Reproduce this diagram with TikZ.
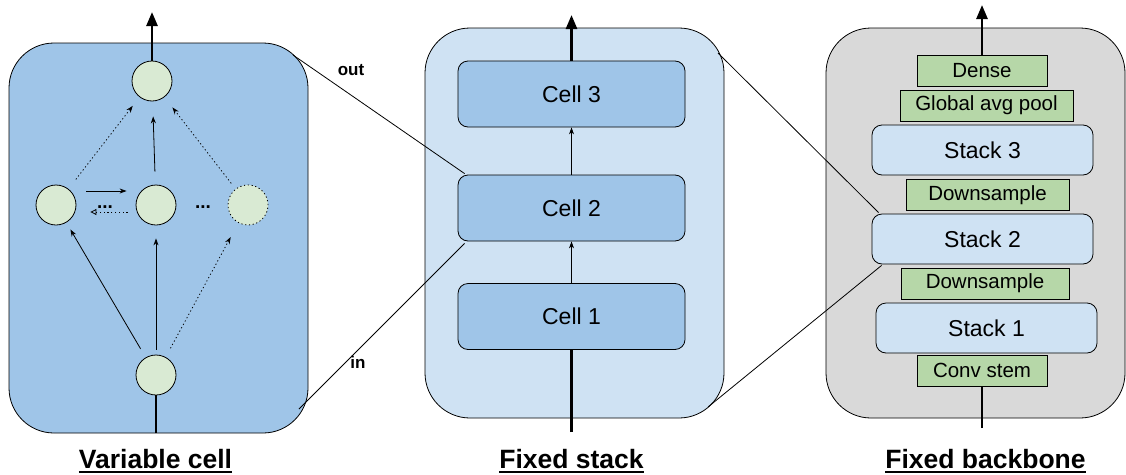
\documentclass[tikz,border=0pt]{standalone}
\usepackage{fontspec}
\setmainfont{Liberation Sans}
\usetikzlibrary{arrows,arrows.meta,calc}
\definecolor{bluscuro}{HTML}{9FC5E8}
\definecolor{bluchiaro}{HTML}{CFE2F3}
\definecolor{verdechiaro}{HTML}{D9EAD3}
\definecolor{verde}{HTML}{B6D7A8}
\definecolor{grigio}{HTML}{D9D9D9}
\newcommand\sottolinea[1]{\setbox0\hbox{#1}\rlap{\rule[-5pt]{\wd0}{2pt}}\box0}
\tikzset{
>=Stealth,
panel node/.style={draw,rounded corners=45pt,minimum width=299pt,minimum height=390pt,line width=0.8pt},
main node/.style={circle,draw,fill=verdechiaro,minimum size=40pt,inner sep=0pt,line width=0.8pt},
cell node/.style={draw,rounded corners=10pt,fill=bluscuro,minimum width=227pt,minimum height=66pt,line width=0.8pt,font=\fontsize{23}{27}\selectfont},
stack node/.style={draw,rounded corners=10pt,fill=bluchiaro,minimum width=221pt,minimum height=50pt,line width=0.8pt,font=\fontsize{23}{27}\selectfont},
layer node/.style={draw,fill=verde,minimum height=31pt,inner sep=0pt,line width=0.8pt,font=\fontsize{20.5}{24}\selectfont},
freccia/.style={->,line width=0.8pt,>={Stealth[length=7pt,width=5pt]}},
puntini/.style={dash pattern=on 1.2pt off 2.6pt},
freccia grossa/.style={->,line width=2.6pt,>={Triangle[length=14pt,width=11pt]}},
titolo/.style={anchor=base,font=\bfseries\fontsize{26.5}{30}\selectfont},
etichetta/.style={font=\bfseries\fontsize{17}{20}\selectfont}}

\begin{document}
\begin{tikzpicture}[x=1pt,y=-1pt]
\useasboundingbox (0,0) rectangle (1126,474);
\node[panel node,fill=bluscuro] (vc) at (158.5,238) {};
\node[panel node,fill=bluchiaro] (fs) at (574.5,223) {};
\node[panel node,fill=grigio] (fb) at (975.5,223) {};

\coordinate (vc ne) at (293,55);
\coordinate (vc se) at (299,409);
\coordinate (fs ne) at (718,53);
\coordinate (fs se) at (708,407);

\node[cell node] (c3) at (571.5,94) {Cell 3};
\node[cell node] (c2) at (571.5,208) {Cell 2};
\node[cell node] (c1) at (571.5,316.5) {Cell 1};

\node[layer node,minimum width=130pt] (dense) at (982,70.5) {Dense};
\node[layer node,minimum width=173pt] (gap) at (986.5,105.5) {Global avg pool};
\node[stack node] (s3) at (982.5,150) {Stack 3};
\node[layer node,minimum width=163pt] (ds2) at (987.5,195) {Downsample};
\node[stack node] (s2) at (982.5,239) {Stack 2};
\node[layer node,minimum width=168pt] (ds1) at (985,283.5) {Downsample};
\node[stack node] (s1) at (986.5,328) {Stack 1};
\node[layer node,minimum width=130pt] (conv) at (982,370.5) {Conv stem};

\draw[line width=0.8pt] (vc ne) -- ($(c2.north west)+(7,-1)$);
\draw[line width=0.8pt] (vc se) -- ($(c2.south west)+(7,2)$);
\draw[line width=0.8pt] (fs ne) -- ($(s2.north west)+(7,-1)$);
\draw[line width=0.8pt] (fs se) -- ($(s2.south west)+(10,1)$);

\node[main node] (n4) at (152,81) {};
\node[main node] (n1) at (56,205) {};
\node[main node] (n2) at (156,205) {};
\node[main node,puntini] (n3) at (248,205) {};
\node[main node] (n0) at (156,375) {};

\node[etichetta,anchor=base,font=\bfseries\fontsize{19}{20}\selectfont] (d1) at (105,208) {...};
\node[etichetta,anchor=base,font=\bfseries\fontsize{19}{20}\selectfont] (d2) at (203,208) {...};

\path[freccia]
	(n0) edge[shorten <=10pt,shorten >=8pt] (n1)
	(n0) edge[shorten <=5pt,shorten >=13pt] (n2)
	(n0) edge[puntini,shorten <=10pt,shorten >=16pt] (n3)
	(n1) edge[puntini,shorten <=12pt,shorten >=11pt] (n4)
	(n2) edge[shorten <=13pt,shorten >=15pt] (n4)
	(n3) edge[puntini,shorten <=7pt,shorten >=13pt] (n4);
\draw[freccia] ($(n1.east)+(10,-14)$) -- ($(n2.west)+(-9,-14)$);
\draw[freccia,puntini,>={Triangle[open,length=6pt,width=6pt]}] ($(n2.west)+(-8,7)$) -- ($(n1.east)+(14,7)$);

\coordinate (vc out) at (152,12);
\coordinate (vc in) at (156,433);
\draw[freccia grossa] (n4) -- (vc out);
\draw[line width=2.6pt] (vc in) -- (n0);

\coordinate (fs out) at (571.5,15);
\coordinate (fs in) at (571.5,432);
\draw[freccia grossa] (c3) -- (fs out);
\draw[line width=2.6pt] (fs in) -- (c1);
\draw[freccia] (c1) -- (c2);
\draw[freccia] (c2) -- (c3);

\coordinate (fb out) at (982,5);
\coordinate (fb in) at (982,428);
\draw[freccia grossa] (dense) -- (fb out);
\draw[line width=2.6pt] (fb in) -- (conv);

\node[etichetta] (lout) at (351,70) {out};
\node[etichetta] (lin) at (358,362) {in};

\node[titolo] (t1) at (155.5,468) {\sottolinea{Variable cell}};
\node[titolo] (t2) at (571.5,468) {\sottolinea{Fixed stack}};
\node[titolo] (t3) at (985.5,468) {\sottolinea{Fixed backbone}};
\end{tikzpicture}
\end{document}
